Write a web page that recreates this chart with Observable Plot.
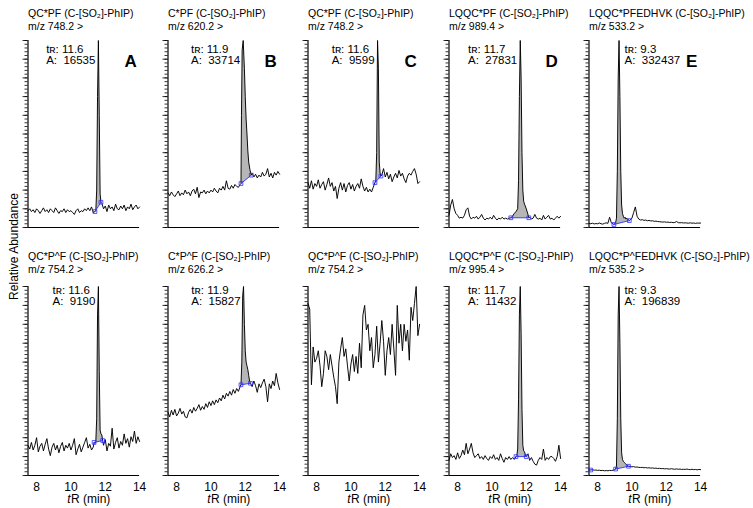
<!DOCTYPE html>
<html><head><meta charset="utf-8">
<script src="https://cdn.jsdelivr.net/npm/d3@7"></script>
<script src="https://cdn.jsdelivr.net/npm/@observablehq/plot@0.6"></script>
<style>
body{margin:0;background:#fff;}
#fig{position:relative;width:753px;height:508px;overflow:hidden;background:#fff;}
#fig > div{position:absolute;}
</style></head><body><div id="fig"></div>
<script>
// ---------- axes ----------
const xDomain = [7.5, 14];
const yDomain = [0, 100];
const tStart = 7.5, tStep = 0.1;          // sampling of the trace arrays
const xTicks = [8, 10, 12, 14];
const yMinorTicks = d3.range(0, 101, 2);
const yMajorTicks = d3.range(0, 101, 10);

// ---------- labels ----------
const titles = ["QC*PF (C-[SO\u2082]-PhIP)", "C*PF (C-[SO\u2082]-PhIP)", "QC*PF (C-[SO\u2082]-PhIP)", "LQQC*PF (C-[SO\u2082]-PhIP)", "LQQC*PFEDHVK (C-[SO\u2082]-PhIP)",
                "QC*P^F (C-[SO\u2082]-PhIP)", "C*P^F (C-[SO\u2082]-PhIP)", "QC*P^F (C-[SO\u2082]-PhIP)", "LQQC*P^F (C-[SO\u2082]-PhIP)", "LQQC*P^FEDHVK (C-[SO\u2082]-PhIP)"];
const mzLabels = ["m/z 748.2 >", "m/z 620.2 >", "m/z 748.2 >", "m/z 989.4 >", "m/z 533.2 >",
                  "m/z 754.2 >", "m/z 626.2 >", "m/z 754.2 >", "m/z 995.4 >", "m/z 535.2 >"];
const rtLabels = ["11.6", "11.9", "11.6", "11.7", "9.3", "11.6", "11.9", null, "11.7", "9.3"];
const areaLabels = ["16535", "33714", "9599", "27831", "332437", "9190", "15827", null, "11432", "196839"];
const panelLetters = ["A", "B", "C", "D", "E"];

// ---------- traces (relative abundance, every 0.1 min from 7.5 to 14.0; null = inside peak window) ----------
const traceA = [9,10,8.5,9.5,8,10,9,7.5,9,10.5, 8.5,9.5,8,10,9,8,10.5,9,7.5,9, 8.5,10,8,9.5,8.5,9,8,7,9,10, 8,9,8.5,10,9,10.5,9,11,8,
  null,null,null,null, 13,10,11.5,8.5,12,10,11,9,12.5,10,9.5,11.5,10,12,9,11,10,12.5,9.5,11,12,10,11];
const peakA = [[11.4,8.5],[11.45,9],[11.5,20],[11.55,70],[11.6,100],[11.65,60],[11.7,18],[11.75,13.5]];

const traceB = [18.5,17,19,17.5,16.5,18,19.5,17,18.5,17.5, 20,18,19,17,19.5,20.5,18,21.5,16,19, 18.5,20,18,19.5,18.5,20,19,21,19.5,18.5,
  21,20,22,20,25,21,20.5,22.5,21,23,22,21.5,23, null,null,null,null,null,null,
  29,27,28.5,26.5,28,27,29.5,27.5,28.5,31.5,27,29,26.5,29.5,28,30,28.5];
const peakB = [[11.75,23.5],[11.78,60],[11.82,95],[11.88,100],[11.95,85],[12,70],[12.05,58],[12.1,50],[12.15,41],[12.2,35],[12.27,31],[12.35,28]];

const traceC = [24,21,25,20.5,23.5,22,25.5,21,23,24.5, 20,23,26.5,22,24,19.5,22,15.5,21,24, 20,23.5,19,22.5,24,20.5,23,19.5,22,23.5,
  21,26,22,19.5,21.5,19,20.5,19,21.5, null,null,null,null,
  28,31.5,27,29.5,26,28.5,24.5,27,29,26.5,30.5,27.5,29,26,24,27.5,29,28,30,31.5,28.5,23.5,24.5];
const peakC = [[11.4,24],[11.45,25],[11.5,40],[11.55,100],[11.6,85],[11.65,35],[11.7,29],[11.75,27.5]];

const traceD = [6.5,12,15,10,7.5,6.5,5,5.5,5,6.5, 9.5,10.5,6,4.5,5.5,5,6,4.5,5.5,7, 5,4,5,4.5,5.5,4.5,6.5,5,4,5, 4.5,5.5,4.5,5,4.5,5,
  null,null,null,null,null,null,null,null,null,null,null,
  5.5,4.5,5,7,5,4.5,5,4,6.5,4.5,5.5,6.5,4.5,5,4,5,6,5,6];
const peakD = [[11.1,5.2],[11.2,6],[11.3,7.5],[11.4,8.5],[11.5,10],[11.55,25],[11.6,70],[11.65,100],[11.7,80],[11.75,40],[11.8,20],[11.85,14],[11.9,12.5],[12,10],[12.1,7],[12.15,5.2]];

const traceE = [2.2,2,2.3,1.9,2.1,2,2.4,2,1.8,2.2,2.5,2.2,5.5,2.5,2,
  null,null,null,null,null,null,null,null,null,
  4,5,8,11,6,4.5,4,4.2,3.8,4,3.6,3.8,3.5,3.6,3.3,3.4,3.2,3.1,3,2.9,3,2.8,2.9,2.7,2.8,2.6,2.7,3.2,2.6,2.5,2.6,2.4,2.5,2.4,2.3,2.5,2.3,2.4,2.2,2.4,2.3,2.4];
const peakE = [[8.95,1.6],[9,2],[9.05,2.5],[9.1,5],[9.15,30],[9.2,80],[9.25,100],[9.3,70],[9.35,30],[9.4,12],[9.45,7.5],[9.5,6],[9.55,5],[9.6,5.5],[9.65,4.5],[9.7,5],[9.75,4.5],[9.8,4],[9.85,3.7]];

const traceF = [16,14,17.5,13.5,16,20,12.5,15.5,17,13, 16.5,19.5,14,10.5,15,17,13.5,16,12,15.5, 17.5,13,16,14.5,17,13.5,16,19.5,11,14,
  16.5,12.5,15,17.5,20,14.5,16.5,13.5,15, null,null,null,null,null,
  16,19,13,17,15.5,25,14,17.5,20,14.5,18,16,22,17,19.5,15,20.5,18,23.5,17,20.5,18];
const peakF = [[11.35,17.5],[11.4,17],[11.45,18],[11.5,30],[11.55,85],[11.6,100],[11.65,55],[11.7,24],[11.75,22],[11.8,21.5],[11.85,18.5]];

const traceG = [33.5,31,34.5,32,35,31.5,33,35.5,32.5,34, 31,30.5,33.5,35,33,36,34,35.5,37.5,34.5, 36.5,35,38,36,39,37,39.5,37.5,40,38.5,
  41,39.5,42.5,40.5,43.5,42,44.5,42.5,45.5,43.5,46,44.5,47, null,null,null,null,null,null,
  47,50,47.5,44,48.5,46.5,49,51,47,39,48.5,46,50,47.5,54,49,45.5];
const peakG = [[11.75,48],[11.8,60],[11.85,95],[11.9,100],[11.95,80],[12,66],[12.05,60],[12.1,58],[12.15,56],[12.2,53],[12.25,50],[12.3,48.8]];

const traceH = [91,88,48,68,60,62,66,58,47,54, 66,63,56,64,58,52,47,38,60,67, 73,63,67,58,50,59,64,55,63,54, 70,57,85,90,77,80,66,73,57,64,
  79,60,70,82,71,53,66,73,64,80, 67,53,90,70,80,66,80,71,77,61, 89,82,91,100,74,80];

const traceI = [8,11.5,9.5,10.5,8.5,12,9,10.5,13.5,11, 17,11.5,14,17,12,9.5,10.5,11.5,9,10, 8.5,10.5,9,8,10,9,11,8.5,9.5,8,
  11.5,9,7,9.5,8.5,10,8.5,9.5,8.5, null,null,null,null,null,null,null,
  11.5,8,9.5,7.5,6,5.5,8,9.5,8.5,14,8,9.5,8.5,10,10,9,7.5,10,16,9];
const peakI = [[11.4,10],[11.45,10.5],[11.5,14],[11.55,40],[11.6,85],[11.65,100],[11.7,75],[11.75,35],[11.8,16],[11.85,13],[11.9,12.5],[11.95,11],[12,10]];

const traceJ = [3,2.9,3.1,2.8,2.9,2.7,2.8,2.6,2.7,2.5,2.6,2.5,2.7,2.6,2.8,3.1,
  null,null,null,null,null,null,null,null,
  4.8,4.6,4.7,4.4,4.5,4.3,4.2,4.3,4.1,4.2,4,4.1,3.9,4,3.8,3.9,3.7,3.8,3.6,3.7,3.5,3.6,3.5,3.4,3.6,3.4,3.3,3.5,3.3,3.4,3.2,3.3,3.2,3.4,3.2,3.1,3.3,3.1,3.2,3,3.2,3.1];
const peakJ = [[9.05,3.4],[9.1,5],[9.15,30],[9.2,85],[9.25,100],[9.3,70],[9.35,30],[9.4,12],[9.45,8.5],[9.5,7.5],[9.55,7],[9.6,6.5],[9.65,6],[9.7,5.5],[9.75,5.2],[9.8,4.9]];
const markerJ = [7.6];   // extra integration marker at the left edge of panel J

const panelTraces = [traceA, traceB, traceC, traceD, traceE, traceF, traceG, traceH, traceI, traceJ];
const panelPeaks  = [peakA, peakB, peakC, peakD, peakE, peakF, peakG, null, peakI, peakJ];
const panelMarkers = [[], [], [], [], [], [], [], [], [], markerJ];

// ---------- layout / style ----------
const FONT = '"Liberation Sans", Arial, Helvetica, sans-serif';
const BLUE = "#2d2dff", GRAY = "#b6b6b6";
const colStep = 140.2, panelW = 140, mLeft = 27.5, mRight = 0.9;
const rows = [
  {top: 0,   height: 254, mTop: 40, mBottom: 27, t1: -24, t2: -11,  aTop: 4.6,  aLine: 0.95},
  {top: 254, height: 254, mTop: 32, mBottom: 33, t1: -27, t2: -13.7, aTop: -0.2, aLine: 0.95}
];
const annFont = 11.5;
const NB = "\u00a0";

function buildPoints(trace, peak) {
  const p0 = peak ? peak[0][0] : Infinity, p1 = peak ? peak[peak.length - 1][0] : -Infinity;
  const pts = [];
  trace.forEach((v, i) => {
    if (v == null) return;
    const t = +(tStart + i * tStep).toFixed(2);
    if (t >= p0 - 1e-9 && t <= p1 + 1e-9) return;
    pts.push({t, v});
  });
  if (peak) peak.forEach(([t, v]) => pts.push({t, v}));
  return pts.sort((a, b) => a.t - b.t);
}

const fig = document.getElementById("fig");
const xPerMin = (panelW - mLeft - mRight) / (xDomain[1] - xDomain[0]);

for (let k = 0; k < 10; k++) {
  const r = Math.floor(k / 5), c = k % 5, row = rows[r];
  const trace = panelTraces[k], peak = panelPeaks[k];
  const pts = buildPoints(trace, peak);
  const marks = [];

  // peak area (closed between trace and integration baseline)
  if (peak) {
    const pp = peak.map(([t, v]) => ({t, v}));
    marks.push(Plot.line(pp, {x: "t", y: "v", fill: GRAY, stroke: "none"}));
  }
  // axes
  marks.push(Plot.axisY({ticks: yMinorTicks, tickSize: 3, tickFormat: () => "", label: null, stroke: "#000", strokeWidth: 0.8}));
  marks.push(Plot.axisY({ticks: yMajorTicks, tickSize: 5, tickFormat: () => "", label: null, stroke: "#000", strokeWidth: 0.8}));
  marks.push(Plot.ruleX([xDomain[0]], {stroke: "#000", strokeWidth: 1.2}));
  marks.push(Plot.ruleY([yDomain[0]], {stroke: "#000", strokeWidth: 1.2}));
  if (r === 1) {
    marks.push(Plot.axisX({ticks: xTicks, tickSize: 0, tickPadding: 6.5, fontSize: 12, label: null, tickFormat: d => String(d)}));
    marks.push(Plot.text(["t"], {frameAnchor: "bottom", dx: -13.3, dy: 27.6, textAnchor: "end", lineAnchor: "bottom", fontSize: 12, fontStyle: "italic"}));
    marks.push(Plot.text(["R (min)"], {frameAnchor: "bottom", dx: -12.8, dy: 27.6, textAnchor: "start", lineAnchor: "bottom", fontSize: 12}));
  }
  // chromatogram trace
  marks.push(Plot.line(pts, {x: "t", y: "v", stroke: "#000", strokeWidth: 0.95}));
  // integration baseline
  if (peak) {
    const ends = [peak[0], peak[peak.length - 1]].map(([t, v]) => ({t, v}));
    marks.push(Plot.line(ends, {x: "t", y: "v", stroke: BLUE, strokeWidth: 0.9}));
    marks.push(Plot.dot(ends, {x: "t", y: "v", symbol: "square", r: 2.1, stroke: BLUE, fill: "none", strokeWidth: 0.8}));
  }
  if (panelMarkers[k].length) {
    const mk = panelMarkers[k].map(t => pts.find(p => Math.abs(p.t - t) < 1e-6)).filter(Boolean);
    marks.push(Plot.dot(mk, {x: "t", y: "v", symbol: "square", r: 2.1, stroke: BLUE, fill: "none", strokeWidth: 0.8}));
  }
  // titles
  marks.push(Plot.text([titles[k]], {frameAnchor: "top-left", dy: row.t1, textAnchor: "start", lineAnchor: "bottom", fontSize: 10.5}));
  marks.push(Plot.text([mzLabels[k]], {frameAnchor: "top-left", dy: row.t2, textAnchor: "start", lineAnchor: "bottom", fontSize: 10.5}));
  // peak annotation (two lines in one text)
  if (peak && rtLabels[k]) {
    const top = peak.reduce((a, b) => (b[1] > a[1] ? b : a));
    const peakT = top[0];
    const blockW = (1.501 + 0.556 * areaLabels[k].length) * annFont;
    const leftRoom = (peakT - xDomain[0]) * xPerMin;
    const L = leftRoom > blockW + 8 ? -(3 + blockW) : 5.5;
    const label = "t\u0280:" + NB + rtLabels[k] + "\nA:" + NB + NB + areaLabels[k];
    marks.push(Plot.text([label], {x: d => peakT, frameAnchor: "top", text: d => d, textAnchor: "start", lineAnchor: "top",
      lineHeight: row.aLine, fontSize: annFont, dx: L, dy: row.aTop}));
  }
  if (r === 0) {
    marks.push(Plot.text([panelLetters[c]], {frameAnchor: "top-right", dx: -9, dy: 26, textAnchor: "middle", lineAnchor: "bottom", fontSize: 17, fontWeight: "bold"}));
  }
  if (k === 0) {
    marks.push(Plot.text(["Relative Abundance"], {frameAnchor: "left", dx: -14, dy: 246 - (row.mTop + (row.height - row.mTop - row.mBottom) / 2), rotate: -90, textAnchor: "middle", fontSize: 12}));
  }

  const svg = Plot.plot({
    width: panelW, height: row.height,
    marginLeft: mLeft, marginRight: mRight, marginTop: row.mTop, marginBottom: row.mBottom,
    x: {domain: xDomain, axis: null},
    y: {domain: yDomain, axis: null},
    style: {fontFamily: FONT, overflow: "visible", background: "transparent", color: "#000"},
    marks
  });
  const holder = document.createElement("div");
  holder.style.left = (c * colStep) + "px";
  holder.style.top = row.top + "px";
  holder.appendChild(svg);
  fig.appendChild(holder);
}
</script>
</body></html>
